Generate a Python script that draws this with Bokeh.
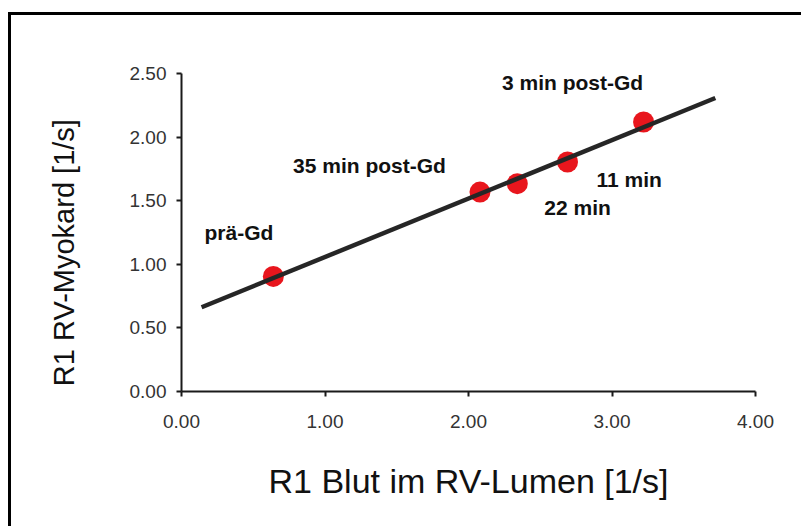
import numpy as np
from bokeh.plotting import figure
from bokeh.models import Range1d, ColumnDataSource, FixedTicker, NumeralTickFormatter
from bokeh.embed import file_html
from bokeh.resources import INLINE
from bokeh.core.properties import value

# ---- data ----
blood_r1 = [0.64, 2.08, 2.34, 2.69, 3.22]      # R1 Blut im RV-Lumen [1/s]
myo_r1 = [0.905, 1.568, 1.634, 1.804, 2.119]    # R1 RV-Myokard [1/s]
point_names = ["prä-Gd", "35 min post-Gd", "22 min", "11 min", "3 min post-Gd"]
label_x = [0.40, 1.31, 2.76, 3.12, 2.725]
label_y = [1.25, 1.775, 1.445, 1.67, 2.43]
fit_x_extent = [0.14, 3.72]
x_ticks = [0.0, 1.0, 2.0, 3.0, 4.0]
y_ticks = [0.0, 0.5, 1.0, 1.5, 2.0, 2.5]
x_title = "R1 Blut im RV-Lumen [1/s]"
y_title = "R1 RV-Myokard [1/s]"

slope, intercept = np.polyfit(blood_r1, myo_r1, 1)
fit_y = [slope * x + intercept for x in fit_x_extent]

p = figure(width=801, height=526, output_backend="svg", toolbar_location=None,
           x_range=Range1d(0, 4), y_range=Range1d(0, 2.5),
           min_border_left=181, min_border_right=46, min_border_top=73, min_border_bottom=135)
p.outline_line_color = None
p.xgrid.visible = False
p.ygrid.visible = False
p.background_fill_color = "white"
p.border_fill_color = None
p.styles = {
    "background": ("linear-gradient(#000, #000) 8px 12px / 3px 700px no-repeat, "
                   "linear-gradient(#000, #000) 8px 12px / 1000px 3px no-repeat, #ffffff"),
}

pts = ColumnDataSource(dict(x=blood_r1, y=myo_r1))
p.scatter("x", "y", source=pts, size=21, fill_color="#e8161d", line_color=None)
p.line(fit_x_extent, fit_y, line_color="#262626", line_width=4.5)

lbl = ColumnDataSource(dict(x=label_x, y=label_y, t=point_names))
p.text("x", "y", text="t", source=lbl, text_align="center", text_baseline="middle",
       text_font=value("Liberation Sans"), text_font_style="bold",
       text_font_size="21px", text_color="#111111")

for ax in (p.xaxis[0], p.yaxis[0]):
    ax.axis_line_width = 2
    ax.axis_line_color = "#1a1a1a"
    ax.major_tick_line_width = 2
    ax.major_tick_line_color = "#1a1a1a"
    ax.minor_tick_line_color = None
    ax.major_tick_in = 0
    ax.major_tick_out = 5
    ax.major_label_text_font = "Liberation Sans"
    ax.major_label_text_font_size = "19px"
    ax.major_label_text_color = "#333333"
    ax.axis_label_text_font = "Liberation Sans"
    ax.axis_label_text_font_style = "normal"
    ax.axis_label_text_color = "#111111"
    ax.formatter = NumeralTickFormatter(format="0.00")

p.xaxis[0].ticker = FixedTicker(ticks=x_ticks)
p.yaxis[0].ticker = FixedTicker(ticks=y_ticks)
p.xaxis[0].major_label_standoff = 18
p.yaxis[0].major_label_standoff = 10

p.xaxis[0].axis_label = x_title
p.xaxis[0].axis_label_text_font_size = "34px"
p.xaxis[0].axis_label_standoff = 31

# trailing no-break spaces push the centred (rotated) label slightly downwards
p.yaxis[0].axis_label = y_title + "\u00a0" * 5
p.yaxis[0].axis_label_text_font_size = "29px"
p.yaxis[0].axis_label_standoff = 47

open("out.html", "w").write(file_html(p, INLINE))
